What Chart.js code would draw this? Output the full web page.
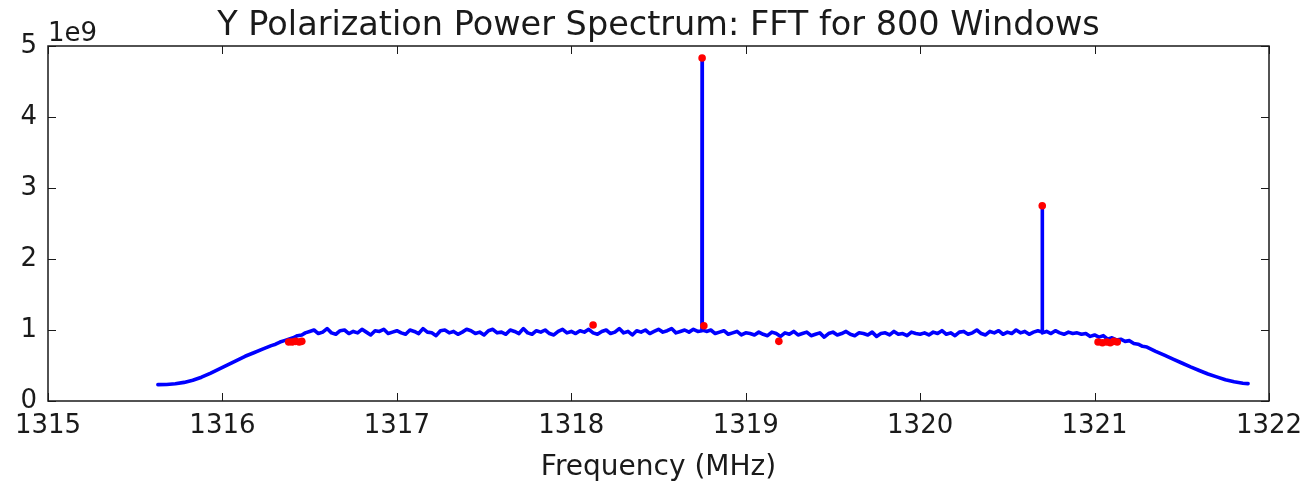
<!DOCTYPE html>
<html>
<head>
<meta charset="utf-8">
<script src="https://cdn.jsdelivr.net/npm/chart.js@4.4.1/dist/chart.umd.min.js"></script>
<style>
  html, body { margin: 0; padding: 0; background: #fff; }
  #wrap { width: 1310px; height: 485px; }
</style>
</head>
<body>
<div id="wrap"><canvas id="spectrumChart"></canvas></div>
<script>
// spectrum, power in units of 1e9
const freqMHz = [
  1315.63, 1315.68, 1315.73, 1315.78, 1315.83, 1315.88, 1315.93, 1315.98, 1316.03, 1316.08,
  1316.13, 1316.18, 1316.23, 1316.28, 1316.305, 1316.33, 1316.355, 1316.38, 1316.405, 1316.43, 1316.455,
  1316.475, 1316.5, 1316.525, 1316.55, 1316.575, 1316.6, 1316.625, 1316.65, 1316.675, 1316.7,
  1316.725, 1316.75, 1316.775, 1316.8, 1316.825, 1316.85, 1316.875, 1316.9, 1316.925, 1316.95,
  1316.975, 1317.0,
  1317.025, 1317.05, 1317.075, 1317.1, 1317.125, 1317.15, 1317.175, 1317.2, 1317.225, 1317.25,
  1317.275, 1317.3, 1317.325, 1317.35, 1317.375, 1317.4, 1317.425, 1317.45, 1317.475, 1317.5,
  1317.525, 1317.55, 1317.575, 1317.6, 1317.625, 1317.65, 1317.675, 1317.7, 1317.725, 1317.75,
  1317.775, 1317.8, 1317.825, 1317.85, 1317.875, 1317.9, 1317.925, 1317.95, 1317.975, 1318.0,
  1318.025, 1318.05, 1318.075, 1318.1, 1318.125, 1318.15, 1318.175, 1318.2, 1318.225, 1318.25,
  1318.275, 1318.3, 1318.325, 1318.35, 1318.375, 1318.4, 1318.425, 1318.45, 1318.475, 1318.5,
  1318.525, 1318.55, 1318.575, 1318.6, 1318.625, 1318.65, 1318.675, 1318.7, 1318.725, 1318.749,
  1318.75, 1318.751,
  1318.775, 1318.8, 1318.825, 1318.85, 1318.875, 1318.9, 1318.925, 1318.95, 1318.975, 1319.0,
  1319.025, 1319.05, 1319.075, 1319.1, 1319.125, 1319.15, 1319.175, 1319.2, 1319.225, 1319.25,
  1319.275, 1319.3, 1319.325, 1319.35, 1319.375, 1319.4, 1319.425, 1319.45, 1319.475, 1319.5,
  1319.525, 1319.55, 1319.575, 1319.6, 1319.625, 1319.65, 1319.675, 1319.7, 1319.725, 1319.75,
  1319.775, 1319.8, 1319.825, 1319.85, 1319.875, 1319.9, 1319.925, 1319.95, 1319.975, 1320.0,
  1320.025, 1320.05, 1320.075, 1320.1, 1320.125, 1320.15, 1320.175, 1320.2, 1320.225, 1320.25,
  1320.275, 1320.3, 1320.325, 1320.35, 1320.375, 1320.4, 1320.425, 1320.45, 1320.475, 1320.5,
  1320.525, 1320.55, 1320.575, 1320.6, 1320.625, 1320.65, 1320.675, 1320.699, 1320.7, 1320.701,
  1320.725, 1320.75, 1320.775, 1320.8, 1320.825, 1320.85, 1320.875, 1320.9,
  1320.925, 1320.95, 1320.975, 1321.0, 1321.025, 1321.05, 1321.075, 1321.1, 1321.125, 1321.15,
  1321.175, 1321.2, 1321.225, 1321.25, 1321.275, 1321.3,
  1321.35, 1321.4, 1321.45, 1321.5, 1321.55, 1321.6, 1321.65, 1321.7, 1321.75, 1321.8,
  1321.85, 1321.88
];
const powerE9 = [
  0.23, 0.232, 0.243, 0.262, 0.292, 0.335, 0.39, 0.45, 0.51, 0.57,
  0.63, 0.68, 0.73, 0.78, 0.80, 0.83, 0.85, 0.87, 0.89, 0.92, 0.93,
  0.96, 0.98, 1.00, 0.95, 0.97, 1.02, 0.96, 0.94, 0.99, 1.00,
  0.95, 0.98, 0.96, 1.01, 0.97, 0.93, 0.99, 0.98, 1.01, 0.95,
  0.97, 0.99,
  0.96, 0.94, 1.00, 0.98, 0.95, 1.02, 0.97, 0.96, 0.92, 0.99,
  1.00, 0.96, 0.98, 0.94, 0.97, 1.01, 0.99, 0.95, 0.97, 0.93,
  0.99, 1.01, 0.96, 0.97, 0.94, 1.00, 0.98, 0.95, 1.02, 0.96,
  0.94, 0.99, 0.97, 1.00, 0.95, 0.93, 0.98, 1.01, 0.96, 0.98,
  0.95, 0.99, 0.97, 1.01, 0.96, 0.94, 0.98, 1.00, 0.95, 0.97,
  1.02, 0.96, 0.98, 0.93, 0.99, 0.97, 1.00, 0.95, 0.98, 1.01,
  0.97, 0.99, 1.02, 0.96, 0.98, 1.00, 0.97, 1.01, 0.98, 0.99,
  4.83, 1.00,
  0.98, 1.00, 0.95, 0.97, 0.99, 0.94, 0.96, 0.98, 0.93, 0.96,
  0.95, 0.93, 0.97, 0.94, 0.92, 0.97, 0.95, 0.91, 0.96, 0.94,
  0.98, 0.93, 0.95, 0.97, 0.92, 0.94, 0.96, 0.90, 0.95, 0.97,
  0.93, 0.95, 0.98, 0.94, 0.92, 0.96, 0.95, 0.93, 0.97, 0.91,
  0.95, 0.96, 0.93, 0.98, 0.94, 0.95, 0.92, 0.97, 0.95, 0.94,
  0.96, 0.93, 0.97, 0.95, 0.99, 0.94, 0.96, 0.92, 0.97, 0.98,
  0.94, 0.96, 1.00, 0.95, 0.93, 0.98, 0.96, 0.99, 0.94, 0.97,
  0.95, 1.00, 0.96, 0.98, 0.94, 0.97, 0.99, 0.97, 2.73, 0.96,
  0.98, 0.95, 0.99, 0.96, 0.94, 0.97, 0.95, 0.96,
  0.94, 0.95, 0.91, 0.93, 0.90, 0.92, 0.87, 0.89, 0.86, 0.87,
  0.84, 0.85, 0.81, 0.80, 0.77, 0.76,
  0.70, 0.645, 0.59, 0.535, 0.48, 0.43, 0.38, 0.34, 0.30, 0.27,
  0.25, 0.245
];

// red markers (detected peaks / edges)
const markFreq = [1316.38, 1316.40, 1316.42, 1316.44, 1316.455, 1318.125, 1318.75, 1318.76, 1319.19, 1320.70,
  1321.02, 1321.045, 1321.07, 1321.09, 1321.11, 1321.13];
const markPower = [0.83, 0.83, 0.84, 0.83, 0.84, 1.07, 4.83, 1.06, 0.84, 2.75,
  0.83, 0.82, 0.83, 0.82, 0.84, 0.83];

const xTicks = [1315, 1316, 1317, 1318, 1319, 1320, 1321, 1322];
const yTicks = [0, 1, 2, 3, 4, 5];

const titleText = 'Y Polarization Power Spectrum: FFT for 800 Windows';
const xLabel = 'Frequency (MHz)';
const yOffsetText = '1e9';

const fontFamily = '"DejaVu Sans", sans-serif';
const inkColor = '#1a1a1a';

const frame = {
  id: 'frame',
  afterDraw(chart) {
    const { ctx, chartArea: a, scales: { x, y } } = chart;
    ctx.save();
    ctx.strokeStyle = inkColor;
    ctx.lineWidth = 1.5;
    ctx.strokeRect(a.left, a.top, a.right - a.left, a.bottom - a.top);
    // inward ticks on all four sides, like matplotlib
    ctx.lineWidth = 1;
    const len = 8;
    ctx.beginPath();
    xTicks.forEach(v => {
      const px = Math.round(x.getPixelForValue(v)) + 0.5;
      ctx.moveTo(px, a.bottom); ctx.lineTo(px, a.bottom - len);
      ctx.moveTo(px, a.top); ctx.lineTo(px, a.top + len);
    });
    yTicks.forEach(v => {
      const py = Math.round(y.getPixelForValue(v)) + 0.5;
      ctx.moveTo(a.left, py); ctx.lineTo(a.left + len, py);
      ctx.moveTo(a.right, py); ctx.lineTo(a.right - len, py);
    });
    ctx.stroke();

    ctx.fillStyle = inkColor;
    ctx.textBaseline = 'alphabetic';
    ctx.textAlign = 'center';
    ctx.font = '33.5px ' + fontFamily;
    ctx.fillText(titleText, (a.left + a.right) / 2, 35);
    ctx.font = '28px ' + fontFamily;
    ctx.fillText(xLabel, (a.left + a.right) / 2, 475);
    ctx.textAlign = 'left';
    ctx.font = '26px ' + fontFamily;
    ctx.fillText(yOffsetText, a.left, 41);
    ctx.restore();
  }
};

new Chart(document.getElementById('spectrumChart'), {
  type: 'line',
  data: {
    datasets: [
      {
        type: 'scatter',
        data: markFreq.map((f, i) => ({ x: f, y: markPower[i] })),
        backgroundColor: '#ff0000',
        borderWidth: 0,
        pointRadius: 3.8,
        order: 0
      },
      {
        data: freqMHz.map((f, i) => ({ x: f, y: powerE9[i] })),
        borderColor: '#0000ff',
        borderWidth: 3.6,
        borderJoinStyle: 'round',
        borderCapStyle: 'round',
        pointRadius: 0,
        tension: 0,
        order: 1
      }
    ]
  },
  options: {
    responsive: true,
    maintainAspectRatio: false,
    animation: false,
    layout: { padding: { left: 0, right: 41, top: 46, bottom: 0 } },
    plugins: { legend: { display: false }, tooltip: { enabled: false } },
    scales: {
      x: {
        type: 'linear',
        min: 1315, max: 1322,
        afterBuildTicks: s => { s.ticks = xTicks.map(v => ({ value: v })); },
        afterFit: s => { s.height = 84; s.paddingLeft = 0; s.paddingRight = 0; },
        grid: { display: false, drawTicks: false },
        border: { display: false },
        ticks: {
          color: inkColor, font: { family: fontFamily, size: 26 }, padding: 10, maxRotation: 0,
          callback: v => String(v)
        }
      },
      y: {
        min: 0, max: 5,
        afterBuildTicks: s => { s.ticks = yTicks.map(v => ({ value: v })); },
        afterFit: s => { s.width = 48; s.paddingTop = 0; s.paddingBottom = 0; },
        grid: { display: false, drawTicks: false },
        border: { display: false },
        ticks: { color: inkColor, font: { family: fontFamily, size: 26 }, padding: 11 }
      }
    }
  },
  plugins: [frame]
});
</script>
</body>
</html>
